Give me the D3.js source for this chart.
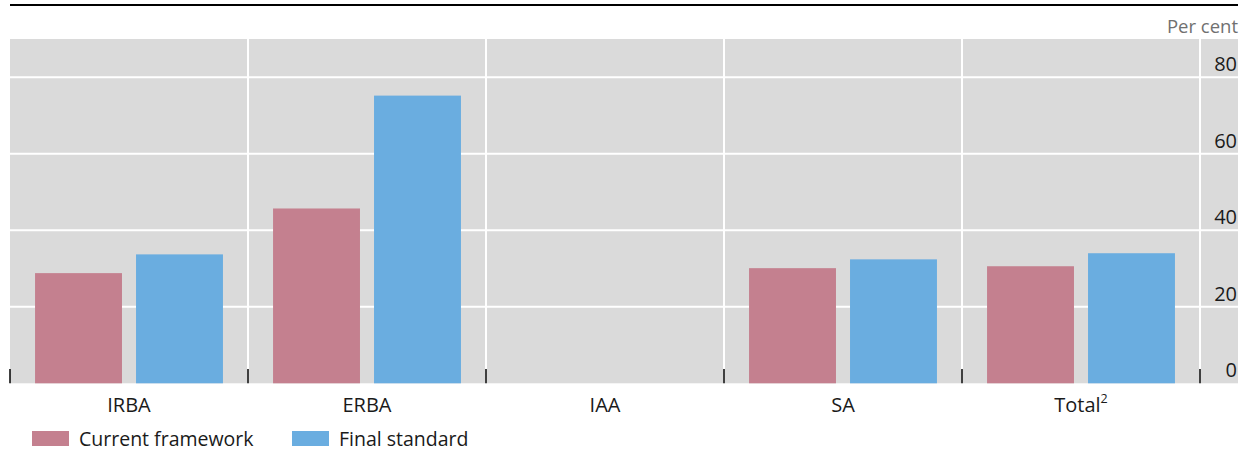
<!DOCTYPE html>
<html>
<head>
<meta charset="utf-8">
<script src="https://cdn.jsdelivr.net/npm/d3@7"></script>
<style>
  html, body { margin: 0; padding: 0; background: #ffffff; }
  svg { display: block; font-family: "Open Sans", "Noto Sans", sans-serif; }
</style>
</head>
<body>
<svg id="chart" width="1241" height="451"></svg>
<script>
// ---- data ----
const categories = ["IRBA", "ERBA", "IAA", "SA", "Total"];
const categorySup = ["", "", "", "", "2"];
const seriesNames = ["Current framework", "Final standard"];
const currentFramework = [28.8, 45.7, null, 30.1, 30.6];
const finalStandard = [33.7, 75.2, null, 32.4, 34.0];
const yTicks = [0, 20, 40, 60, 80];
const unitLabel = "Per cent";

const colors = ["#c4808f", "#6aade0"];
const seriesValues = [currentFramework, finalStandard];

// ---- layout ----
const svg = d3.select("#chart");
const plotLeft = 10, plotRight = 1200, bgRight = 1238;
const plotTop = 39, plotBottom = 383.3;

const x0 = d3.scaleBand().domain(categories).range([plotLeft, plotRight]).padding(0);
const x1 = d3.scaleBand().domain(seriesNames).range([0, x0.bandwidth()])
  .paddingInner(0.139).paddingOuter(0.248);
const y = d3.scaleLinear().domain([0, 90]).range([plotBottom, plotTop]);

// top rule
svg.append("line").attr("x1", 10).attr("x2", 1238).attr("y1", 5).attr("y2", 5)
  .attr("stroke", "#000").attr("stroke-width", 2.2);

// unit label
svg.append("text").attr("x", 1238).attr("y", 33).attr("text-anchor", "end")
  .attr("font-size", 18.5).attr("fill", "#707070").text(unitLabel);

// background
svg.append("rect").attr("x", plotLeft).attr("y", plotTop)
  .attr("width", bgRight - plotLeft).attr("height", plotBottom - plotTop)
  .attr("fill", "#dadada");

// horizontal gridlines
svg.append("g").selectAll("line").data(yTicks.filter(d => d > 0)).join("line")
  .attr("x1", plotLeft).attr("x2", bgRight)
  .attr("y1", d => y(d)).attr("y2", d => y(d))
  .attr("stroke", "#ffffff").attr("stroke-width", 2);

// vertical gridlines at category boundaries
const bounds = categories.map(c => x0(c)).concat([plotRight]);
svg.append("g").selectAll("line").data(bounds.slice(1)).join("line")
  .attr("x1", d => d).attr("x2", d => d)
  .attr("y1", plotTop).attr("y2", plotBottom)
  .attr("stroke", "#ffffff").attr("stroke-width", 2);

// bars
const groups = svg.append("g").selectAll("g").data(categories).join("g")
  .attr("transform", c => `translate(${x0(c)},0)`);
groups.selectAll("rect")
  .data((c, i) => seriesNames.map((s, j) => ({ s, j, v: seriesValues[j][i] })).filter(d => d.v != null))
  .join("rect")
  .attr("x", d => x1(d.s))
  .attr("width", x1.bandwidth())
  .attr("y", d => y(d.v))
  .attr("height", d => y(0) - y(d.v))
  .attr("fill", d => colors[d.j]);

// bottom ticks
svg.append("g").selectAll("line").data(bounds).join("line")
  .attr("x1", d => d).attr("x2", d => d)
  .attr("y1", 369).attr("y2", plotBottom)
  .attr("stroke", "#000").attr("stroke-width", 1.5);

// y tick labels
svg.append("g").selectAll("text").data(yTicks).join("text")
  .attr("x", 1237).attr("y", d => y(d) - 6)
  .attr("text-anchor", "end").attr("font-size", 20).attr("fill", "#1a1a1a")
  .text(d => d);

// x labels
const xl = svg.append("g").selectAll("text").data(categories).join("text")
  .attr("x", c => x0(c) + x0.bandwidth() / 2).attr("y", 412)
  .attr("text-anchor", "middle").attr("font-size", 20).attr("fill", "#1a1a1a");
xl.append("tspan").text(c => c);
xl.append("tspan").attr("font-size", 12.5).attr("dy", -9)
  .text((c, i) => categorySup[i]);

// legend
const legendX = [32, 292];
const lg = svg.append("g").selectAll("g").data(seriesNames).join("g")
  .attr("transform", (d, i) => `translate(${legendX[i]},0)`);
lg.append("rect").attr("x", 0).attr("y", 431).attr("width", 37).attr("height", 15)
  .attr("fill", (d, i) => colors[i]);
lg.append("text").attr("x", 47).attr("y", 445.5).attr("font-size", 19.5)
  .attr("fill", "#1a1a1a").text(d => d);
</script>
</body>
</html>
